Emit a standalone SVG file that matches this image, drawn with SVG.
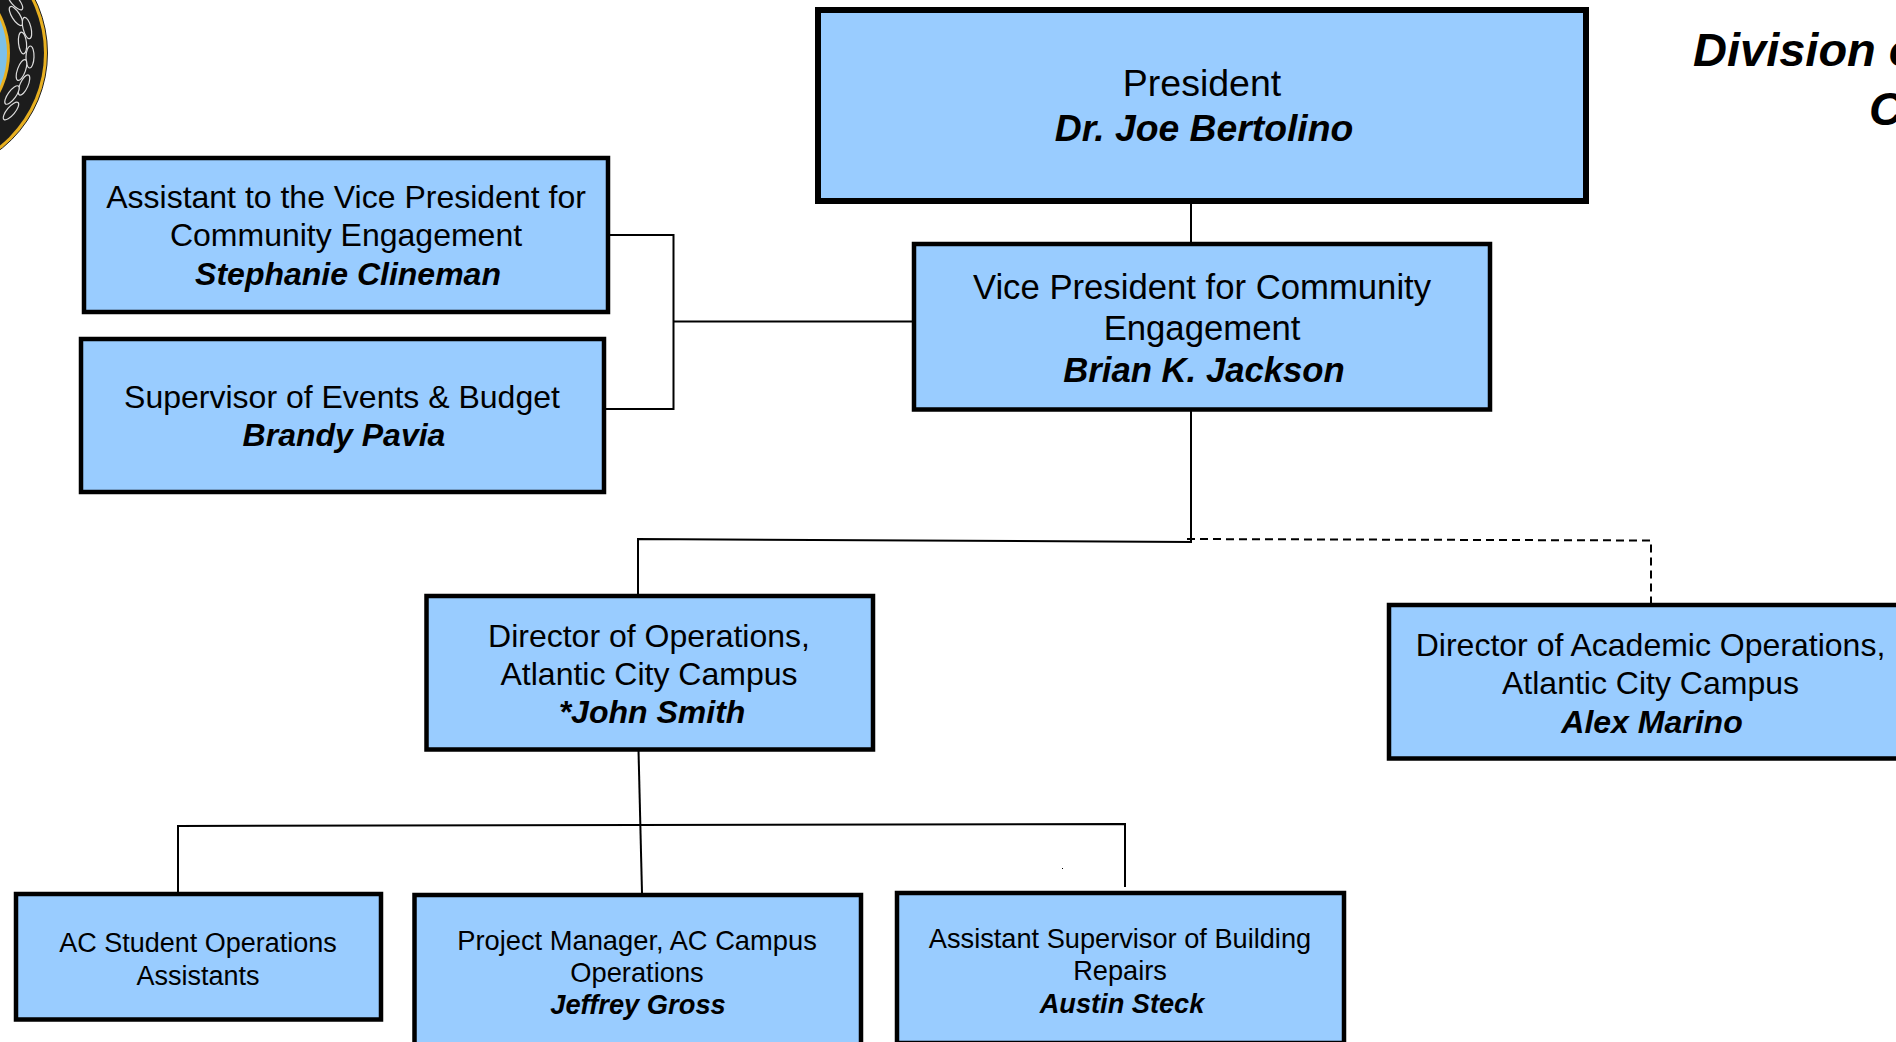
<svg xmlns="http://www.w3.org/2000/svg" width="1896" height="1042" viewBox="0 0 1896 1042">
<style>
text{font-family:"Liberation Sans",Arial,sans-serif;fill:#000;text-anchor:middle}
.b{font-weight:bold;font-style:italic}
.box{fill:#99ccff;stroke:#000;stroke-width:4.500}
.c{fill:none;stroke:#000;stroke-width:2}
.d{fill:none;stroke:#000;stroke-width:2;stroke-dasharray:8 5}
.t{font-size:47px;font-weight:bold;font-style:italic}
.leaf{fill:#1c1c1c;stroke:#ddd;stroke-width:1.200}
</style>
<rect width="1896" height="1042" fill="#fff"/>
<g id="emblem">
<circle cx="-75" cy="53" r="122.500" fill="#e8b020" stroke="#222" stroke-width="1"/>
<circle cx="-75" cy="53" r="119" fill="#1c1c1c"/>
<circle cx="-75" cy="53" r="85" fill="#e8b020"/>
<circle cx="-75" cy="53" r="82" fill="#7cc0e8"/>
<g class="laurel">
<ellipse class="leaf" cx="15" cy="1" rx="4" ry="11" transform="rotate(-40 15 1)"/>
<ellipse class="leaf" cx="16" cy="16" rx="4" ry="11" transform="rotate(-32 16 16)"/>
<ellipse class="leaf" cx="27" cy="28" rx="4" ry="11" transform="rotate(-14 27 28)"/>
<ellipse class="leaf" cx="22.500" cy="43" rx="4" ry="11" transform="rotate(-6 22.500 43)"/>
<ellipse class="leaf" cx="30" cy="57" rx="4" ry="11" transform="rotate(2 30 57)"/>
<ellipse class="leaf" cx="21.500" cy="70" rx="4" ry="11" transform="rotate(20 21.500 70)"/>
<ellipse class="leaf" cx="24" cy="85" rx="4" ry="11" transform="rotate(24 24 85)"/>
<ellipse class="leaf" cx="12" cy="95" rx="4" ry="11" transform="rotate(36 12 95)"/>
<ellipse class="leaf" cx="11" cy="111" rx="4" ry="11" transform="rotate(40 11 111)"/>
</g>
</g>
<g id="connectors">
<path class="c" d="M1191 202V243"/>
<path class="c" d="M1191 410V542"/>
<path class="c" d="M1192 542L638 539V595"/>
<path class="d" d="M1187 539L1651 540.500V604"/>
<path class="c" d="M608 235H673.500V409H605"/>
<path class="c" d="M673.500 321.500H913"/>
<path class="c" d="M638.500 750L642 893"/>
<path class="c" d="M178 892V826L1125 824V887"/>
<rect x="1062" y="868" width="1" height="1" fill="#000"/>
</g>
<g id="president"><rect x="818" y="10" width="768" height="191" fill="#99ccff" stroke="#000" stroke-width="6"/>
<text x="1202" y="96" font-size="37.500">President</text><text x="1204" y="141" font-size="37.300" class="b">Dr. Joe Bertolino</text></g>
<g id="vp"><rect class="box" x="914" y="244" width="576" height="165.500"/>
<text x="1202" y="298.500" font-size="34.700">Vice President for Community</text><text x="1202" y="339.500" font-size="34.700">Engagement</text><text x="1204" y="381.500" font-size="34.700" class="b">Brian K. Jackson</text></g>
<g id="assistant"><rect class="box" x="84" y="158" width="524" height="154"/>
<text x="346" y="208" font-size="32">Assistant to the Vice President for</text><text x="346" y="246" font-size="32">Community Engagement</text><text x="348" y="285" font-size="32" class="b">Stephanie Clineman</text></g>
<g id="supervisor"><rect class="box" x="81" y="339" width="523" height="153"/>
<text x="342" y="408" font-size="32">Supervisor of Events &amp; Budget</text><text x="344" y="446" font-size="32" class="b">Brandy Pavia</text></g>
<g id="dir-ops"><rect class="box" x="426.500" y="596" width="446.500" height="153.500"/>
<text x="649" y="646.500" font-size="32">Director of Operations,</text><text x="649" y="684.500" font-size="32">Atlantic City Campus</text><text x="652" y="722.500" font-size="32" class="b">*John Smith</text></g>
<g id="dir-academic"><rect class="box" x="1389" y="605" width="530" height="153.500"/>
<text x="1650.500" y="655.500" font-size="32">Director of Academic Operations,</text><text x="1650.500" y="693.500" font-size="32">Atlantic City Campus</text><text x="1652" y="732.500" font-size="32" class="b">Alex Marino</text></g>
<g id="ac-students"><rect class="box" x="16" y="894" width="365" height="125.500"/>
<text x="198" y="951.500" font-size="27">AC Student Operations</text><text x="198" y="984.500" font-size="27">Assistants</text></g>
<g id="project-manager"><rect class="box" x="414.500" y="895" width="446.500" height="160"/>
<text x="637" y="949.500" font-size="27.300">Project Manager, AC Campus</text><text x="637" y="981.500" font-size="27.300">Operations</text><text x="638" y="1014" font-size="27.300" class="b">Jeffrey Gross</text></g>
<g id="assistant-supervisor"><rect class="box" x="897" y="893" width="447" height="150"/>
<text x="1120" y="947.500" font-size="27.200">Assistant Supervisor of Building</text><text x="1120" y="979.500" font-size="27.200">Repairs</text><text x="1122" y="1012.500" font-size="27.200" class="b">Austin Steck</text></g>
<g id="title"><text class="t" x="1693" y="65.500" style="text-anchor:start">Division of</text><text class="t" x="1869" y="125" style="text-anchor:start">C</text></g>
</svg>
